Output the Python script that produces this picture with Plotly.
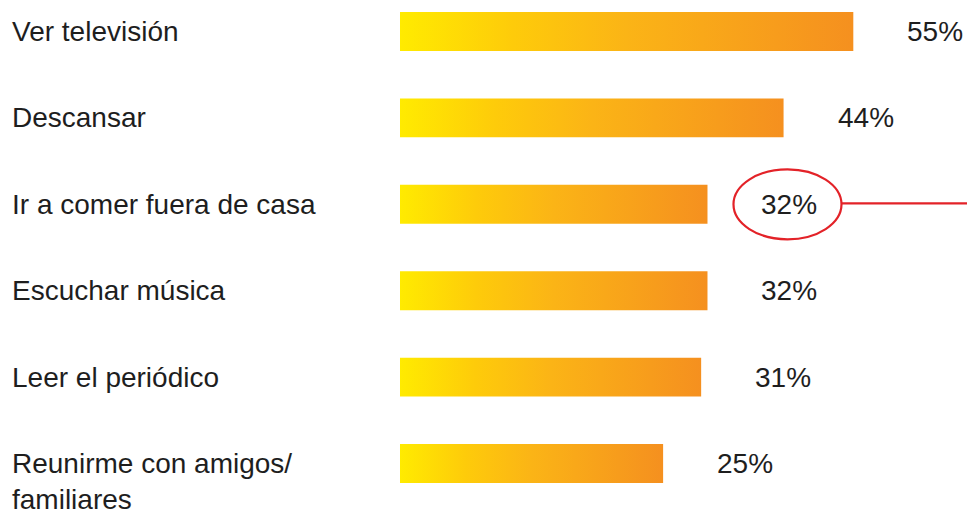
import plotly.graph_objects as go

# Leisure activities and share of respondents (%)
categories = [
    "Ver televisión",
    "Descansar",
    "Ir a comer fuera de casa",
    "Escuchar música",
    "Leer el periódico",
    "Reunirme con amigos/<br>familiares",
]
values = [55, 44, 32, 32, 31, 25]
highlight_index = 2  # the circled entry

# Styling
W, H = 967, 516
FONT = "Liberation Sans, Arial, Helvetica, sans-serif"
TEXT_COLOR = "#1e1e1e"
GRADIENT = [[0.0, "#FFEB00"], [0.25, "#FECB0A"], [0.5, "#FBB416"], [1.0, "#F5901F"]]
RED = "#E32228"
BAR_BASE = -16.5          # axis value where bars start
BAR_HALF = 0.225          # half bar thickness, in category units
PX_PER_UNIT_X = 6.34      # horizontal scale
PX_PER_ROW = 86.4         # vertical spacing between rows
BAR_LEFT_PX = 400         # pixel where bars start
FIRST_ROW_PX = 31.5       # pixel of the first row centre
LABEL_GAP = 52            # gap between bar end and its value label

x_min = BAR_BASE - BAR_LEFT_PX / PX_PER_UNIT_X
x_max = x_min + W / PX_PER_UNIT_X
y_top = -FIRST_ROW_PX / PX_PER_ROW
y_bottom = y_top + H / PX_PER_ROW

fig = go.Figure()

# Each bar is a filled polygon so it can carry a horizontal gradient
for i, v in enumerate(values):
    fig.add_trace(go.Scatter(
        x=[BAR_BASE, v, v, BAR_BASE, BAR_BASE],
        y=[i - BAR_HALF, i - BAR_HALF, i + BAR_HALF, i + BAR_HALF, i - BAR_HALF],
        mode="lines",
        line=dict(width=0),
        fill="toself",
        fillgradient=dict(type="horizontal", colorscale=GRADIENT),
        hoverinfo="skip",
        showlegend=False,
    ))

annotations = []
line_h = 28 * 1.3
for i, (cat, v) in enumerate(zip(categories, values)):
    n_lines = cat.count("<br>") + 1
    annotations.append(dict(
        x=10 / W, xref="paper", xanchor="left",
        y=i, yref="y", yanchor="middle",
        yshift=-(n_lines - 1) * line_h / 2,
        text=cat, showarrow=False, align="left",
        font=dict(family=FONT, size=28, color=TEXT_COLOR),
    ))
    annotations.append(dict(
        x=v, xref="x", xanchor="left", xshift=LABEL_GAP,
        y=i, yref="y", yanchor="middle",
        text=f"{v}%", showarrow=False,
        font=dict(family=FONT, size=28, color=TEXT_COLOR),
    ))

# Red ellipse around the highlighted value and a leader line to the right edge
hv = values[highlight_index]
cx = LABEL_GAP + 28
shapes = [
    dict(type="circle", xref="x", yref="y",
         xsizemode="pixel", ysizemode="pixel",
         xanchor=hv, yanchor=highlight_index,
         x0=cx - 54, x1=cx + 54, y0=-35, y1=35,
         line=dict(color=RED, width=2.2), fillcolor="rgba(0,0,0,0)", layer="above"),
    dict(type="line", xref="x", yref="y",
         xsizemode="pixel", ysizemode="pixel",
         xanchor=hv, yanchor=highlight_index,
         x0=cx + 54, x1=cx + 600, y0=1, y1=1,
         line=dict(color=RED, width=2.2), layer="above"),
]

fig.update_layout(
    width=W, height=H,
    margin=dict(l=0, r=0, t=0, b=0),
    paper_bgcolor="white", plot_bgcolor="white",
    xaxis=dict(range=[x_min, x_max], visible=False, fixedrange=True),
    yaxis=dict(range=[y_bottom, y_top], visible=False, fixedrange=True),
    annotations=annotations,
    shapes=shapes,
    showlegend=False,
)

fig.write_html("out.html")
